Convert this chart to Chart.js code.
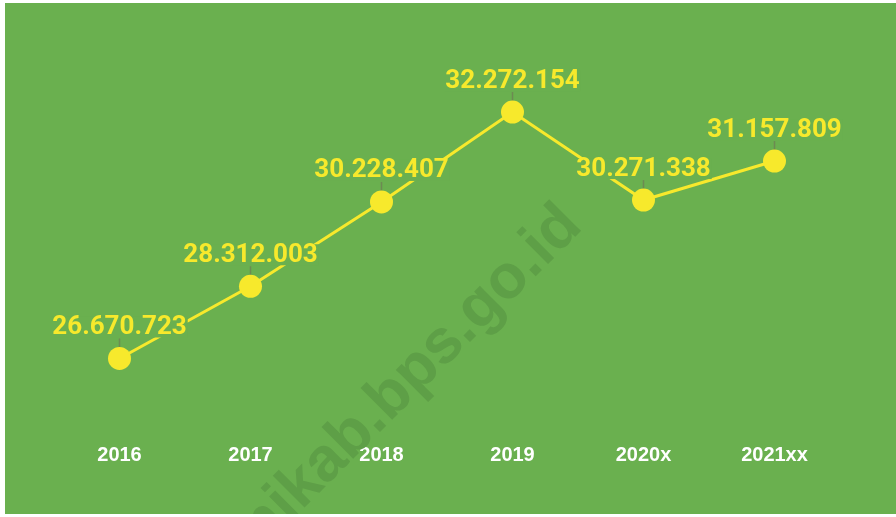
<!DOCTYPE html>
<html>
<head>
<meta charset="utf-8">
<script src="https://cdn.jsdelivr.net/npm/chart.js@4.4.0/dist/chart.umd.min.js"></script>
<style>
	html, body { margin: 0; padding: 0; background: #ffffff; }
	#wrap { width: 896px; height: 517px; }
</style>
</head>
<body>
<div id="wrap"><canvas id="chart" width="896" height="517"></canvas></div>
<script>
const years = ["2016", "2017", "2018", "2019", "2020x", "2021xx"];
const values = [26670723, 28312003, 30228407, 32272154, 30271338, 31157809];
const valueLabels = ["26.670.723", "28.312.003", "30.228.407", "32.272.154", "30.271.338", "31.157.809"];

const GREEN = "#6ab04f";
const YELLOW = "#f7e92c";

const decorPlugin = {
	id: "decor",
	beforeDraw: (chart) => {
		const ctx = chart.ctx;
		ctx.save();
		ctx.fillStyle = GREEN;
		ctx.fillRect(5, 3, 891, 511);
		ctx.restore();
	},
	beforeDatasetsDraw: (chart) => {
		const ctx = chart.ctx;
		// watermark
		ctx.save();
		ctx.beginPath();
		ctx.rect(5, 3, 891, 511);
		ctx.clip();
		ctx.translate(584, 228);
		ctx.rotate(-45 * Math.PI / 180);
		ctx.font = "bold 62px 'Liberation Sans', Arial, sans-serif";
		ctx.fillStyle = "#5e9f47";
		ctx.textAlign = "right";
		ctx.textBaseline = "alphabetic";
		ctx.fillText("sukabumikab.bps.go.id", 0, 0);
		ctx.restore();

		// leader lines from label to point
		const meta = chart.getDatasetMeta(0);
		ctx.save();
		ctx.strokeStyle = "#6d8a52";
		ctx.lineWidth = 1.5;
		meta.data.forEach((pt) => {
			ctx.beginPath();
			ctx.moveTo(pt.x, pt.y - 20);
			ctx.lineTo(pt.x, pt.y - 8);
			ctx.stroke();
		});
		ctx.restore();
	},
	afterDatasetsDraw: (chart) => {
		const ctx = chart.ctx;
		const meta = chart.getDatasetMeta(0);
		ctx.save();
		ctx.font = "bold 26px Roboto, sans-serif";
		ctx.textAlign = "center";
		ctx.textBaseline = "middle";
		meta.data.forEach((pt, i) => {
			const txt = valueLabels[i];
			const w = ctx.measureText(txt).width;
			const cy = pt.y - 31;
			ctx.fillStyle = GREEN;
			ctx.fillRect(pt.x - w / 2 - 1, cy - 11, w + 2, 21);
			ctx.fillStyle = YELLOW;
			ctx.fillText(txt, pt.x, cy);
		});
		ctx.restore();
	},
};

new Chart(document.getElementById("chart"), {
	type: "line",
	data: {
		labels: years,
		datasets: [
			{
				label: "",
				data: values,
				borderColor: YELLOW,
				borderWidth: 3,
				backgroundColor: YELLOW,
				pointBackgroundColor: YELLOW,
				pointBorderWidth: 0,
				pointRadius: 11.5,
				pointHoverRadius: 11.5,
				tension: 0,
				fill: false,
			},
		],
	},
	options: {
		responsive: false,
		animation: false,
		layout: {
			padding: {
				left: 54,
				right: 56,
				top: 80,
				bottom: 39,
			},
		},
		plugins: {
			legend: { display: false },
			tooltip: { enabled: false },
		},
		scales: {
			x: {
				offset: true,
				grid: { display: false, drawTicks: false },
				border: { display: false },
				ticks: {
					color: "#ffffff",
					padding: 11,
					font: { family: "'Liberation Sans', Arial, sans-serif", size: 20, weight: "bold" },
				},
			},
			y: {
				display: false,
				min: 25000000,
				max: 33000000,
			},
		},
	},
	plugins: [decorPlugin],
});
</script>
</body>
</html>
